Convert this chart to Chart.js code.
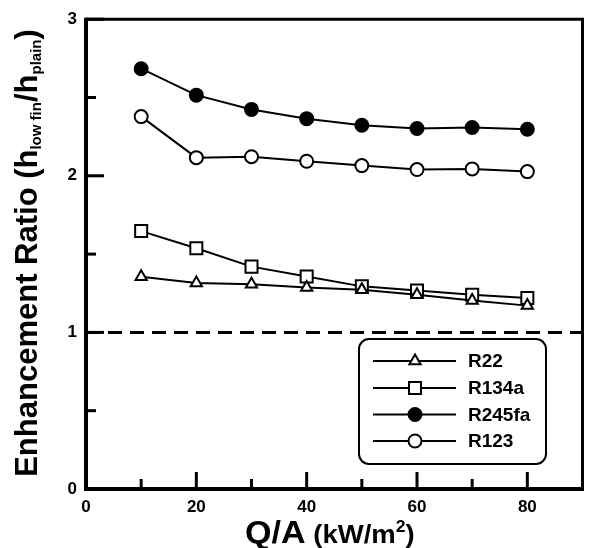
<!DOCTYPE html>
<html>
<head>
<meta charset="utf-8">
<script src="https://cdn.jsdelivr.net/npm/chart.js@4.4.0/dist/chart.umd.min.js"></script>
<style>
  html, body { margin: 0; padding: 0; background: #fff; }
  #wrap { width: 593px; height: 548px; }
</style>
</head>
<body>
<div id="wrap"><canvas id="ratioChart" width="593" height="548"></canvas></div>
<script>
// values
const heatFlux = [10, 20, 30, 40, 50, 60, 70, 80];
const r22 = [1.355, 1.315, 1.308, 1.287, 1.272, 1.241, 1.203, 1.171];
const r134a = [1.647, 1.537, 1.420, 1.357, 1.294, 1.268, 1.241, 1.219];
const r245fa = [2.684, 2.515, 2.424, 2.365, 2.323, 2.302, 2.308, 2.297];
const r123 = [2.378, 2.116, 2.122, 2.093, 2.065, 2.040, 2.044, 2.027];
const seriesNames = ['R22', 'R134a', 'R245fa', 'R123'];

const xTicks = [0, 20, 40, 60, 80];
const xTickLabels = ['0', '20', '40', '60', '80'];
const xMinorTicks = [10, 30, 50, 70];
const yTicks = [0, 1, 2, 3];
const yTickLabels = ['0', '1', '2', '3'];
const yMinorTicks = [0.5, 1.5, 2.5];
const referenceLevel = [1, 1];
const referenceX = [0, 90];

const FONT = "'Liberation Sans', Arial, Helvetica, sans-serif";

const toPoints = (xs, ys) => ys.map((v, i) => ({ x: xs[i], y: v }));

function series(label, values, style, radius, fill) {
    return {
        label: label,
        data: toPoints(heatFlux, values),
        borderColor: '#000',
        borderWidth: 2,
        pointStyle: style,
        pointRadius: radius,
        pointHoverRadius: radius,
        pointBorderWidth: 2,
        pointBorderColor: '#000',
        pointBackgroundColor: fill,
        tension: 0
    };
}

// frame + inward tick marks
const framePlugin = {
    id: 'frame',
    afterDraw(chart) {
        const { ctx, chartArea: a, scales } = chart;
        ctx.save();
        ctx.strokeStyle = '#000';
        ctx.lineCap = 'butt';
        // top and right
        ctx.lineWidth = 3;
        ctx.beginPath();
        ctx.moveTo(a.left, a.top);
        ctx.lineTo(a.right, a.top);
        ctx.lineTo(a.right, a.bottom);
        ctx.stroke();
        // left and bottom axes
        ctx.lineWidth = 4;
        ctx.beginPath();
        ctx.moveTo(a.left, a.top - 1.5);
        ctx.lineTo(a.left, a.bottom);
        ctx.lineTo(a.right + 1.5, a.bottom);
        ctx.stroke();

        ctx.lineWidth = 3;
        const tick = (vals, len, horiz) => {
            vals.forEach(v => {
                ctx.beginPath();
                if (horiz) {
                    const x = scales.x.getPixelForValue(v);
                    ctx.moveTo(x, a.bottom);
                    ctx.lineTo(x, a.bottom - len);
                } else {
                    const y = scales.y.getPixelForValue(v);
                    ctx.moveTo(a.left, y);
                    ctx.lineTo(a.left + len, y);
                }
                ctx.stroke();
            });
        };
        tick(xTicks, 17, true);
        tick(xMinorTicks, 10, true);
        tick(yTicks, 18, false);
        tick(yMinorTicks, 10, false);
        ctx.restore();
    }
};

function drawRuns(ctx, runs, x, y) {
    let cx = x;
    runs.forEach(r => {
        ctx.font = 'bold ' + r.size + 'px ' + FONT;
        ctx.fillText(r.text, cx, y + (r.dy || 0));
        cx += ctx.measureText(r.text).width;
    });
}
function runsWidth(ctx, runs) {
    let w = 0;
    runs.forEach(r => {
        ctx.font = 'bold ' + r.size + 'px ' + FONT;
        w += ctx.measureText(r.text).width;
    });
    return w;
}

// axis titles with sub/superscripts
const titlePlugin = {
    id: 'titles',
    afterDraw(chart) {
        const ctx = chart.ctx;
        ctx.save();
        ctx.fillStyle = '#000';
        ctx.textBaseline = 'alphabetic';
        ctx.textAlign = 'left';

        const xRuns = [
            { text: 'Q/A', size: 31 },
            { text: ' (kW/m', size: 25 },
            { text: '2', size: 16, dy: -11 },
            { text: ')', size: 25 }
        ];
        ctx.save();
        ctx.translate(245, 543);
        ctx.scale(1.1, 1);
        drawRuns(ctx, xRuns, 0, 0);
        ctx.restore();

        const yRuns = [
            { text: 'Enhancement Ratio (h', size: 31 },
            { text: 'low fin', size: 15, dy: 4 },
            { text: '/h', size: 31 },
            { text: 'plain', size: 15, dy: 4 },
            { text: ')', size: 31 }
        ];
        ctx.save();
        ctx.translate(37, 253);
        ctx.rotate(-Math.PI / 2);
        const w = runsWidth(ctx, yRuns);
        drawRuns(ctx, yRuns, -w / 2, 0);
        ctx.restore();
        ctx.restore();
    }
};

// boxed legend with line + marker samples
const legendPlugin = {
    id: 'boxLegend',
    afterDraw(chart) {
        const ctx = chart.ctx;
        const box = { x: 359, y: 339, w: 187, h: 125, r: 10 };
        ctx.save();
        ctx.fillStyle = '#fff';
        ctx.strokeStyle = '#000';
        ctx.lineWidth = 2;
        ctx.beginPath();
        ctx.roundRect(box.x, box.y, box.w, box.h, box.r);
        ctx.fill();
        ctx.stroke();

        const rows = [361, 388, 414.5, 441];
        chart.data.datasets.slice(0, seriesNames.length).forEach((ds, i) => {
            const y = rows[i];
            ctx.strokeStyle = '#000';
            ctx.lineWidth = 2;
            ctx.beginPath();
            ctx.moveTo(373, y);
            ctx.lineTo(456, y);
            ctx.stroke();
            ctx.fillStyle = ds.pointBackgroundColor;
            Chart.helpers.drawPoint(ctx, {
                pointStyle: ds.pointStyle,
                rotation: 0,
                radius: ds.pointRadius,
                borderWidth: 2
            }, 415, y);
            ctx.fillStyle = '#000';
            ctx.font = 'bold 19px ' + FONT;
            ctx.textBaseline = 'middle';
            ctx.textAlign = 'left';
            ctx.fillText(ds.label, 468, y + 1);
        });
        ctx.restore();
    }
};

const tickFont = { family: FONT, size: 17, weight: 'bold' };

new Chart(document.getElementById('ratioChart'), {
    type: 'line',
    data: {
        datasets: [
            series(seriesNames[0], r22, 'triangle', 6.5, '#fff'),
            series(seriesNames[1], r134a, 'rect', 8.5, '#fff'),
            series(seriesNames[2], r245fa, 'circle', 6.5, '#000'),
            series(seriesNames[3], r123, 'circle', 6.5, '#fff'),
            {
                label: 'reference',
                data: toPoints(referenceX, referenceLevel),
                borderColor: '#000',
                borderWidth: 3,
                borderDash: [14, 8],
                pointRadius: 0,
                pointHoverRadius: 0
            }
        ]
    },
    options: {
        responsive: false,
        animation: false,
        layout: { padding: { left: 0, top: 16, right: 4, bottom: 0 } },
        plugins: {
            legend: { display: false },
            tooltip: { enabled: false }
        },
        scales: {
            x: {
                type: 'linear',
                min: 0,
                max: 90,
                afterBuildTicks: s => { s.ticks = xTicks.map(v => ({ value: v })); },
                afterFit: s => { s.height = 59; },
                ticks: {
                    color: '#000',
                    font: tickFont,
                    padding: 8,
                    maxRotation: 0,
                    callback: (v, i) => xTickLabels[i]
                },
                grid: { display: false, drawTicks: false },
                border: { display: false }
            },
            y: {
                type: 'linear',
                min: 0,
                max: 3,
                afterBuildTicks: s => { s.ticks = yTicks.map(v => ({ value: v })); },
                afterFit: s => { s.width = 86; },
                ticks: {
                    color: '#000',
                    font: tickFont,
                    padding: 9,
                    callback: (v, i) => yTickLabels[i]
                },
                grid: { display: false, drawTicks: false },
                border: { display: false }
            }
        }
    },
    plugins: [framePlugin, titlePlugin, legendPlugin]
});
</script>
</body>
</html>
